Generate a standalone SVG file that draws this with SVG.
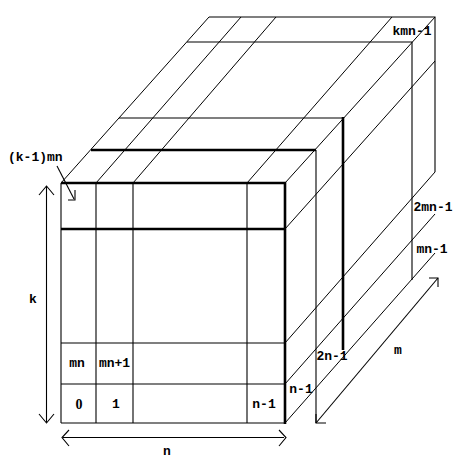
<svg xmlns="http://www.w3.org/2000/svg" width="462" height="463" viewBox="0 0 462 463">
<style>
.t{stroke:#000;stroke-width:1.1;fill:none}
.b{stroke:#000;stroke-width:2.6;fill:none}
.d{stroke:#000;stroke-width:1;fill:none}
text{font-family:"Liberation Mono","DejaVu Sans Mono",monospace;font-weight:bold;font-size:13px;fill:#000}
.c{text-anchor:middle}
.z{font-family:"Liberation Serif",serif;font-size:14px}
</style>
<rect width="462" height="463" fill="#fff"/>
<g id="back-layers">
<polyline class="t" points="209,17 435,17 435,172"/>
<polyline class="t" points="187,42 412,42 412,280"/>
<polyline class="t" points="119,118 343,118"/>
<line class="b" x1="343" y1="117" x2="343" y2="350"/>
<line class="b" x1="91" y1="150" x2="316" y2="150"/>
<line class="t" x1="316" y1="150" x2="316" y2="423"/>
</g>
<g id="diagonals">
<line class="d" x1="61" y1="183" x2="209" y2="17"/>
<line class="d" x1="96" y1="183" x2="241" y2="17"/>
<line class="d" x1="133" y1="183" x2="276" y2="17"/>
<line class="d" x1="247" y1="183" x2="392" y2="17"/>
<line class="d" x1="285" y1="183" x2="435" y2="17"/>
<line class="d" x1="285" y1="229" x2="435" y2="61"/>
<line class="d" x1="285" y1="343" x2="435" y2="172"/>
<line class="d" x1="285" y1="384" x2="435" y2="214"/>
<line class="d" x1="285" y1="423" x2="435" y2="253"/>
</g>
<g id="front-face">
<line class="t" x1="61" y1="183" x2="61" y2="423"/>
<line class="t" x1="96" y1="183" x2="96" y2="423"/>
<line class="t" x1="133" y1="183" x2="133" y2="423"/>
<line class="t" x1="247" y1="183" x2="247" y2="423"/>
<line class="t" x1="61" y1="343" x2="285" y2="343"/>
<line class="t" x1="61" y1="384" x2="285" y2="384"/>
<line class="t" x1="61" y1="423" x2="285" y2="423"/>
<line class="b" x1="61" y1="183" x2="286" y2="183"/>
<line class="b" x1="61" y1="229" x2="285" y2="229"/>
<line class="b" x1="285" y1="182" x2="285" y2="424"/>
</g>
<g id="connectors">
<polyline class="t" points="57,166 74,199"/>
<polyline class="t" points="68,200 75,200 75,190"/>
<line class="t" x1="46.5" y1="186" x2="46.5" y2="422"/>
<polyline class="t" points="39,195 46.5,186 54,195"/>
<polyline class="t" points="39,414 46.5,423 54,414"/>
<line class="t" x1="63" y1="437.5" x2="284" y2="437.5"/>
<polyline class="t" points="69,430 62,437.5 69,446"/>
<polyline class="t" points="279,430 286,437.5 279,446"/>
<line class="t" x1="316" y1="423" x2="438" y2="278"/>
<polyline class="t" points="316,414 316,423 326,423"/>
<polyline class="t" points="429,278 438,278 438,287"/>
</g>
<g id="labels">
<text x="8" y="161">(k-1)mn</text>
<text class="c" x="33" y="303">k</text>
<text class="c" x="77" y="367">mn</text>
<text class="c" x="114.5" y="367">mn+1</text>
<text class="c z" x="79" y="409">0</text>
<text class="c" x="116" y="408">1</text>
<text class="c" x="264" y="408">n-1</text>
<text class="c" x="301" y="393">n-1</text>
<text class="c" x="332" y="360">2n-1</text>
<text class="c" x="398" y="354">m</text>
<text class="c" x="432" y="253">mn-1</text>
<text class="c" x="433" y="211">2mn-1</text>
<text class="c" x="412" y="35">kmn-1</text>
<text class="c" x="167" y="455">n</text>
</g>
</svg>
